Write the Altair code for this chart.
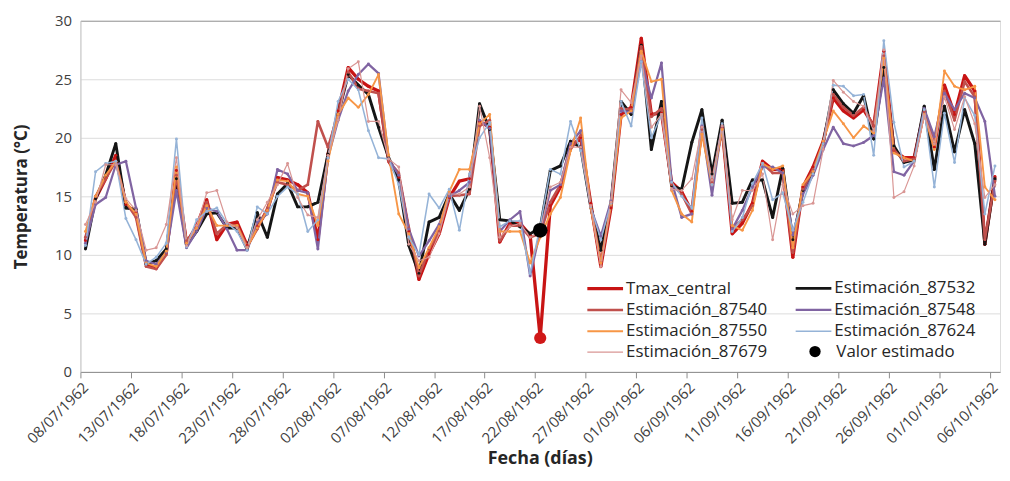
import altair as alt
import pandas as pd

# ---------------- data ----------------
tick_labels = ['08/07/1962', '13/07/1962', '18/07/1962', '23/07/1962', '28/07/1962',
               '02/08/1962', '07/08/1962', '12/08/1962', '17/08/1962', '22/08/1962',
               '27/08/1962', '01/09/1962', '06/09/1962', '11/09/1962', '16/09/1962',
               '21/09/1962', '26/09/1962', '01/10/1962', '06/10/1962']

series_names = ['Tmax_central', 'Estimación_87532', 'Estimación_87540', 'Estimación_87548',
                'Estimación_87550', 'Estimación_87624', 'Estimación_87679']
series_colors = ['#C81414', '#151515', '#C0504D', '#8064A2', '#F79646', '#95B3D7', '#D99694']
series_widths = [3.3, 1.2, 1.2, 1.2, 1.2, 1.2, 1.2]
estimated_name = 'Valor estimado'

tmax_central = [11.2, 14.8, 16.5, 18.5, 14.3, 13.6, 9.2, 8.9, 10.2, 17.2,
                11.0, 12.5, 14.7, 11.3, 12.6, 12.8, 10.8, 12.4, 13.8, 16.6,
                16.4, 16.0, 15.3, 11.3, 18.6, 22.3, 26.0, 25.0, 24.4, 24.0,
                18.0, 16.6, 12.0, 7.9, 10.1, 11.8, 14.9, 16.3, 16.5, 21.4,
                20.9, 11.1, 12.7, 12.7, 11.7, 2.9, 14.2, 15.8, 19.2, 20.0,
                14.4, 9.0, 14.0, 22.0, 22.6, 28.5, 22.0, 22.1, 16.2, 15.4,
                13.7, 20.9, 16.4, 20.9, 11.8, 12.7, 14.4, 18.0, 17.3, 17.3,
                9.8, 15.8, 17.5, 19.7, 23.4, 22.3, 21.7, 22.4, 21.0, 27.4,
                18.9, 18.3, 18.3, 22.3, 19.2, 24.5, 22.0, 25.3, 24.0, 10.9,
                16.7]

est_87532 = [10.5, 14.8, 16.8, 19.5, 14.0, 13.9, 9.2, 9.5, 10.5, 16.5,
             10.8, 12.0, 13.5, 13.6, 12.3, 12.3, 10.5, 13.6, 11.5, 15.2,
             16.1, 14.1, 14.1, 14.5, 18.6, 22.0, 25.4, 24.5, 23.7, 20.9,
             18.3, 16.4, 10.8, 8.4, 12.8, 13.2, 15.2, 13.8, 15.6, 22.9,
             20.7, 13.0, 12.9, 12.4, 11.8, 12.3, 17.2, 17.6, 19.7, 19.2,
             14.1, 10.4, 14.4, 23.1, 22.0, 27.9, 19.0, 23.1, 15.9, 15.6,
             19.6, 22.4, 16.9, 21.5, 14.4, 14.5, 16.4, 16.4, 13.2, 17.4,
             11.3, 15.5, 17.0, 19.5, 24.1, 22.9, 22.1, 23.6, 19.9, 26.0,
             19.3, 17.9, 18.1, 22.7, 17.3, 22.7, 18.8, 22.4, 19.5, 10.9,
             16.5]

est_87540 = [11.5, 15.0, 16.5, 18.0, 14.5, 13.2, 9.0, 8.8, 10.0, 16.8,
             11.2, 12.3, 14.5, 11.8, 12.6, 12.5, 10.7, 12.2, 14.0, 16.2,
             16.0, 15.5, 16.0, 21.4, 19.2, 22.0, 25.6, 24.2, 24.0, 23.8,
             18.0, 17.0, 12.3, 8.2, 10.5, 12.0, 15.0, 15.1, 15.2, 21.0,
             21.5, 11.2, 12.5, 12.5, 11.5, 11.8, 14.5, 16.0, 19.0, 20.2,
             14.2, 9.3, 14.2, 22.5, 22.4, 27.8, 21.8, 22.5, 16.0, 15.2,
             13.5, 20.7, 16.2, 20.8, 12.3, 13.0, 14.2, 17.8, 17.0, 17.0,
             10.2, 15.6, 17.3, 19.5, 23.7, 22.6, 21.9, 22.6, 21.0, 27.0,
             19.0, 18.0, 18.2, 22.2, 19.5, 24.0, 21.5, 24.8, 23.5, 11.3,
             16.3]

est_87548 = [11.0, 14.3, 14.9, 17.7, 18.0, 14.0, 9.5, 9.2, 10.2, 15.5,
             10.6, 12.0, 14.0, 13.7, 12.2, 10.4, 10.4, 12.8, 13.5, 17.3,
             16.9, 15.5, 15.3, 10.5, 18.3, 21.5, 24.0, 25.4, 26.3, 25.5,
             18.2, 16.8, 12.2, 9.9, 11.2, 12.6, 15.0, 15.5, 16.2, 21.5,
             20.8, 12.0, 13.0, 13.7, 8.2, 12.0, 15.5, 16.0, 19.5, 20.6,
             14.0, 11.6, 14.6, 22.3, 22.2, 26.5, 23.4, 26.4, 16.3, 13.2,
             13.5, 21.0, 15.1, 21.0, 12.2, 13.8, 15.8, 17.5, 17.5, 17.0,
             11.7, 15.2, 16.8, 19.0, 20.9, 19.5, 19.3, 19.6, 20.2, 25.1,
             17.1, 16.8, 18.0, 22.5, 20.1, 23.8, 22.4, 23.8, 23.4, 21.4,
             15.0]

est_87550 = [12.0, 15.0, 16.8, 18.0, 14.5, 13.5, 9.3, 9.0, 10.3, 17.5,
             11.0, 12.3, 14.2, 12.5, 12.5, 12.5, 10.6, 12.3, 13.8, 16.4,
             16.3, 15.2, 15.0, 12.5, 18.0, 22.0, 23.4, 22.6, 23.7, 25.4,
             18.5, 13.5, 11.8, 8.9, 10.6, 12.4, 15.4, 17.3, 17.3, 21.2,
             22.0, 12.0, 12.0, 12.0, 9.3, 11.5, 13.5, 14.9, 18.9, 21.7,
             14.0, 9.3, 14.3, 21.7, 22.3, 27.4, 24.8, 25.0, 15.5, 13.5,
             12.8, 20.3, 16.0, 20.7, 12.5, 12.1, 13.8, 17.8, 17.3, 17.6,
             10.6, 16.0, 17.1, 19.7, 22.3, 21.2, 20.0, 21.0, 20.4, 26.8,
             18.7, 18.3, 18.0, 22.0, 19.0, 25.7, 24.4, 24.1, 24.4, 15.8,
             14.7]

est_87624 = [10.8, 17.1, 17.8, 18.0, 13.1, 11.3, 9.2, 9.8, 11.0, 19.9,
             10.7, 13.0, 13.7, 14.0, 12.7, 12.0, 10.4, 14.1, 13.5, 15.0,
             15.8, 15.2, 12.0, 13.0, 18.3, 23.1, 25.0, 24.1, 20.6, 18.3,
             18.2, 16.0, 11.5, 10.0, 15.2, 14.0, 15.6, 12.1, 16.9, 20.0,
             21.3, 12.4, 12.9, 12.9, 8.4, 12.5, 17.3, 16.9, 21.4, 18.9,
             14.1, 11.3, 14.4, 23.1, 21.0, 26.5, 20.0, 22.0, 16.2, 15.0,
             14.0, 21.7, 16.0, 21.2, 12.0, 13.2, 16.1, 17.8, 14.7, 15.3,
             12.1, 14.5, 16.9, 19.5, 24.5, 24.4, 23.6, 23.7, 18.5, 28.3,
             21.3, 17.5, 18.0, 22.4, 15.8, 22.1, 17.9, 23.4, 21.9, 13.5,
             17.6]

est_87679 = [12.6, 14.5, 17.7, 17.7, 14.8, 13.8, 10.4, 10.6, 12.6, 18.3,
             10.8, 12.5, 15.3, 15.5, 12.8, 12.3, 10.6, 13.0, 14.5, 16.0,
             17.8, 14.9, 13.4, 13.2, 18.5, 21.5, 25.9, 26.5, 21.4, 21.4,
             18.2, 17.5, 10.9, 9.5, 9.8, 11.8, 15.2, 15.2, 15.8, 22.7,
             18.3, 11.5, 12.4, 12.7, 11.5, 12.0, 15.8, 16.2, 19.2, 19.2,
             14.2, 9.0, 14.5, 24.1, 23.0, 27.0, 20.9, 22.0, 15.6, 15.5,
             16.5, 20.9, 16.4, 21.0, 13.0, 15.5, 15.5, 16.9, 11.3, 16.0,
             13.5, 14.2, 14.4, 19.0, 24.9, 23.9, 23.1, 22.7, 20.6, 27.5,
             14.9, 15.4, 17.6, 21.9, 19.5, 23.5, 20.7, 23.5, 21.2, 14.9,
             16.0]

# highlighted points
error_day = [45]
error_value = [2.9]
estimated_day = [45]
estimated_value = [12.1]

# ---------------- build tables ----------------
all_series = [tmax_central, est_87532, est_87540, est_87548, est_87550, est_87624, est_87679]
rows = []
for name, vals in zip(series_names, all_series):
    for i, v in enumerate(vals):
        rows.append({'x': i + 0.5, 'value': v, 'serie': name})
df = pd.DataFrame(rows)

df_err = pd.DataFrame({'x': [d + 0.5 for d in error_day], 'value': error_value})
df_est = pd.DataFrame({'x': [d + 0.5 for d in estimated_day], 'value': estimated_value,
                       'tipo': [estimated_name] * len(estimated_day)})

FONT = 'Open Sans'
label_expr = "[" + ",".join(f"'{l}'" for l in tick_labels) + "][round(datum.value / 5)]"

x_enc = alt.X('x:Q',
              scale=alt.Scale(domain=[0, 91], nice=False, zero=False),
              axis=alt.Axis(values=list(range(0, 91, 5)), labelExpr=label_expr,
                            labelAngle=-45, labelAlign='right', labelBaseline='top',
                            labelFontSize=15, labelFont=FONT, labelColor='#404040',
                            labelPadding=2, labelOverlap=False, labelFlush=False,
                            ticks=True, tickSize=6, tickColor='#8c8c8c',
                            domainColor='#8c8c8c', grid=False,
                            title='Fecha (días)', titleFont=FONT, titleFontSize=18,
                            titleFontWeight='bold', titleColor='#262626',
                            titleX=463, titleY=87, titleBaseline='middle', titleAlign='center'))
y_enc = alt.Y('value:Q',
              scale=alt.Scale(domain=[0, 30], nice=False),
              axis=alt.Axis(values=[0, 5, 10, 15, 20, 25, 30], labelFontSize=15, labelFont=FONT,
                            labelColor='#404040', labelPadding=9, ticks=False,
                            domainColor='#c8c8c8',
                            gridColor={"condition": {"test": "datum.value === 30", "value": "#9a9a9a"},
                                       "value": "#dcdcdc"},
                            title='Temperatura (°C)', titleFont=FONT, titleFontSize=17,
                            titleFontWeight='bold', titleColor='#262626',
                            titleX=-59, titleY=177, titleBaseline='middle', titleAlign='center'))

color_scale = alt.Scale(domain=series_names, range=series_colors)
width_scale = alt.Scale(domain=series_names, range=series_widths)


def line_legend():
    # flat custom path: a 36px line drawn from an 18px symbol slot
    return alt.Legend(title=None, orient='none', legendX=509, legendY=259, columns=2,
                      direction='horizontal',
                      labelFont=FONT, labelFontSize=17, labelColor='#262626', labelOffset=19,
                      symbolSize=324, symbolType='M-1,0H3', symbolStrokeWidth=1.5,
                      rowPadding=3, columnPadding=22)


lines = alt.Chart(df).mark_line(strokeJoin='round').encode(
    x=x_enc, y=y_enc,
    color=alt.Color('serie:N', scale=color_scale, legend=line_legend(), sort=series_names),
    strokeWidth=alt.StrokeWidth('serie:N', scale=width_scale, legend=line_legend(), sort=series_names),
)

dots = alt.Chart(df).mark_circle(size=9, opacity=1).encode(
    x='x:Q', y='value:Q',
    color=alt.Color('serie:N', scale=color_scale, legend=None)
)

err_pt = alt.Chart(df_err).mark_circle(size=150, opacity=1, color='#D01818').encode(
    x='x:Q', y='value:Q'
)

est_pt = alt.Chart(df_est).mark_circle(size=220, opacity=1).encode(
    x='x:Q', y='value:Q',
    fill=alt.Fill('tipo:N', scale=alt.Scale(domain=[estimated_name], range=['#000000']),
                  legend=alt.Legend(title=None, orient='none', legendX=732, legendY=325,
                                    labelFont=FONT, labelFontSize=17, labelColor='#262626',
                                    labelOffset=13, symbolSize=130, symbolType='circle',
                                    symbolStrokeWidth=0))
)

chart = alt.layer(lines, dots, err_pt, est_pt).properties(
    width=927, height=354,
    autosize=alt.AutoSizeParams(type='none'),
    padding={"left": 73, "top": 11, "right": 2, "bottom": 95}
).configure_view(strokeWidth=0).configure(background='white')

chart.save("out.html", embed_options={"renderer": "svg", "actions": False})
